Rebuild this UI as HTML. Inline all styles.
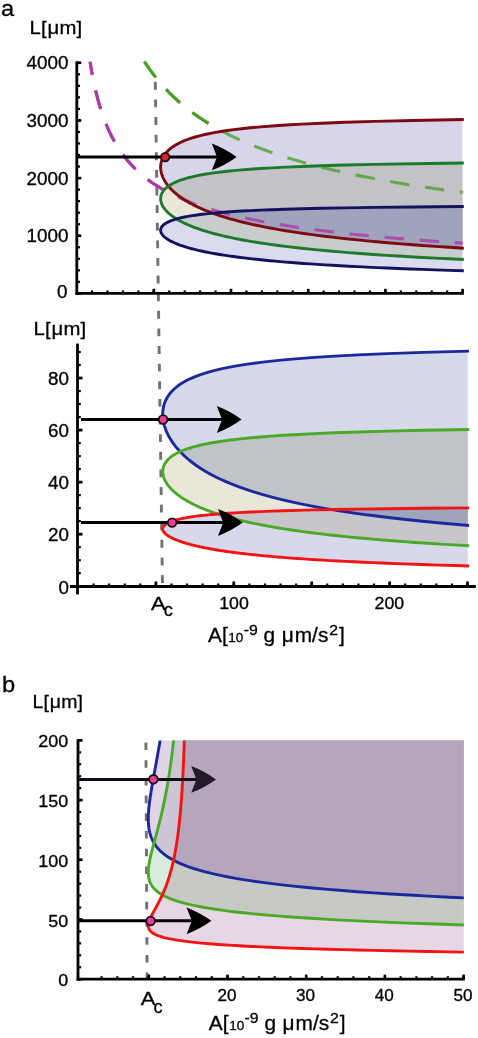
<!DOCTYPE html>
<html><head><meta charset="utf-8"><title>figure</title>
<style>html,body{margin:0;padding:0;background:#fff}svg{display:block}text{font-family:"Liberation Sans", sans-serif;fill:#000;stroke:#000;stroke-width:0.3px}.m{mix-blend-mode:multiply}</style>
</head><body>
<svg width="478" height="1038" viewBox="0 0 478 1038">
<rect width="478" height="1038" fill="#fff"/>
<g fill="none" stroke-width="3.1" stroke-dasharray="19.4 15.8">
<path stroke-dashoffset="6" d="M90.03 61.65 L90.21 62.75 L90.57 64.94 L91.05 67.82 L91.65 71.21 L92.34 74.97 L93.13 78.99 L93.99 83.18 L94.93 87.48 L95.95 91.83 L97.04 96.19 L98.19 100.53 L99.41 104.81 L100.69 109.02 L102.03 113.13 L103.43 117.15 L104.89 121.06 L106.4 124.85 L107.97 128.53 L109.59 132.09 L111.26 135.53 L112.98 138.86 L114.76 142.07 L116.58 145.18 L118.45 148.17 L120.37 151.06 L122.33 153.84 L124.34 156.53 L126.4 159.13 L128.5 161.63 L130.64 164.05 L132.83 166.38 L135.06 168.63 L137.33 170.81 L139.65 172.92 L142 174.95 L144.4 176.92 L146.83 178.82 L149.31 180.66 L151.82 182.45 L154.38 184.17 L156.97 185.84 L159.6 187.47 L162.27 189.04 L164.98 190.56 L167.72 192.04 L170.5 193.48 L173.32 194.87 L176.17 196.23 L179.06 197.54 L181.99 198.82 L184.95 200.06 L187.94 201.27 L190.97 202.45 L194.04 203.6 L197.13 204.71 L200.27 205.8 L203.43 206.86 L206.63 207.89 L209.87 208.9 L213.13 209.88 L216.43 210.84 L219.76 211.77 L223.13 212.68 L226.52 213.57 L229.95 214.44 L233.41 215.29 L236.9 216.12 L240.43 216.93 L243.98 217.72 L247.57 218.5 L251.18 219.26 L254.83 220 L258.51 220.72 L262.21 221.43 L265.95 222.13 L269.72 222.81 L273.52 223.48 L277.35 224.13 L281.2 224.77 L285.09 225.4 L289 226.02 L292.95 226.62 L296.92 227.21 L300.93 227.79 L304.96 228.36 L309.02 228.92 L313.1 229.47 L317.22 230 L321.37 230.53 L325.54 231.05 L329.74 231.56 L333.97 232.06 L338.22 232.55 L342.51 233.04 L346.82 233.51 L351.16 233.98 L355.52 234.44 L359.92 234.89 L364.34 235.33 L368.78 235.77 L373.26 236.2 L377.76 236.62 L382.28 237.03 L386.84 237.44 L391.41 237.84 L396.02 238.24 L400.65 238.63 L405.31 239.01 L409.99 239.39 L414.7 239.76 L419.44 240.13 L424.2 240.49 L428.99 240.85 L433.8 241.2 L438.63 241.54 L443.5 241.88 L448.39 242.22 L453.3 242.55 L458.24 242.87 L463.2 243.19" stroke="#ad38ab"/>
<path d="M144.45 61.65 L144.6 61.88 L144.9 62.35 L145.32 62.99 L145.83 63.76 L146.42 64.65 L147.09 65.64 L147.83 66.72 L148.63 67.88 L149.5 69.11 L150.43 70.41 L151.42 71.76 L152.46 73.16 L153.55 74.6 L154.7 76.08 L155.89 77.6 L157.14 79.14 L158.43 80.71 L159.77 82.3 L161.15 83.9 L162.58 85.52 L164.05 87.15 L165.57 88.79 L167.12 90.43 L168.72 92.08 L170.36 93.73 L172.04 95.37 L173.75 97.01 L175.51 98.65 L177.3 100.28 L179.14 101.91 L181 103.52 L182.91 105.13 L184.85 106.72 L186.83 108.31 L188.84 109.88 L190.88 111.44 L192.97 112.98 L195.08 114.51 L197.23 116.02 L199.41 117.52 L201.63 119.01 L203.87 120.47 L206.15 121.93 L208.47 123.36 L210.81 124.78 L213.18 126.18 L215.59 127.57 L218.03 128.94 L220.5 130.29 L222.99 131.63 L225.52 132.94 L228.08 134.25 L230.67 135.53 L233.29 136.8 L235.93 138.05 L238.61 139.29 L241.31 140.51 L244.05 141.71 L246.81 142.9 L249.6 144.07 L252.42 145.23 L255.26 146.37 L258.14 147.5 L261.04 148.61 L263.96 149.7 L266.92 150.79 L269.9 151.85 L272.91 152.91 L275.95 153.94 L279.01 154.97 L282.1 155.98 L285.21 156.98 L288.36 157.96 L291.52 158.93 L294.71 159.89 L297.93 160.83 L301.18 161.77 L304.45 162.69 L307.74 163.6 L311.06 164.49 L314.41 165.38 L317.78 166.25 L321.17 167.11 L324.59 167.96 L328.03 168.8 L331.5 169.63 L334.99 170.45 L338.51 171.25 L342.05 172.05 L345.61 172.84 L349.2 173.61 L352.81 174.38 L356.45 175.14 L360.11 175.88 L363.79 176.62 L367.5 177.35 L371.22 178.07 L374.98 178.78 L378.75 179.49 L382.55 180.18 L386.37 180.86 L390.22 181.54 L394.08 182.21 L397.97 182.87 L401.88 183.52 L405.82 184.17 L409.77 184.81 L413.75 185.44 L417.75 186.06 L421.77 186.67 L425.82 187.28 L429.89 187.88 L433.97 188.48 L438.09 189.06 L442.22 189.64 L446.37 190.22 L450.55 190.79 L454.74 191.35 L458.96 191.9 L463.2 192.45" stroke="#4aa028"/>
</g>
<line x1="155.3" y1="81.8" x2="162.5" y2="586.5" stroke="#727272" stroke-width="2.9" stroke-dasharray="7.9 9.72"/>
<defs>
<path id="p1r" d="M463.8 119.54 L412.96 120.46 L374.78 121.37 L345.08 122.29 L321.33 123.21 L301.91 124.13 L285.76 125.05 L272.12 125.97 L260.45 126.89 L250.37 127.81 L241.58 128.73 L233.86 129.65 L227.02 130.56 L220.93 131.48 L215.48 132.4 L210.58 133.32 L206.16 134.24 L202.15 135.16 L198.5 136.08 L195.18 137 L192.14 137.92 L189.35 138.84 L186.8 139.75 L184.44 140.67 L182.28 141.59 L180.28 142.51 L178.44 143.43 L176.74 144.35 L175.16 145.27 L173.71 146.19 L172.37 147.11 L171.13 148.03 L169.98 148.95 L168.93 149.86 L167.95 150.78 L167.06 151.7 L166.23 152.62 L165.48 153.54 L164.79 154.46 L164.17 155.38 L163.6 156.3 L163.09 157.22 L162.64 158.14 L162.23 159.05 L161.88 159.97 L161.57 160.89 L161.31 161.81 L161.09 162.73 L160.92 163.65 L160.79 164.57 L160.7 165.49 L160.65 166.41 L160.64 167.33 L160.67 168.24 L160.73 169.16 L160.83 170.08 L160.97 171 L161.15 171.92 L161.36 172.84 L161.6 173.76 L161.89 174.68 L162.2 175.6 L162.56 176.52 L162.94 177.43 L163.37 178.35 L163.83 179.27 L164.32 180.19 L164.85 181.11 L165.42 182.03 L166.02 182.95 L166.66 183.87 L167.34 184.79 L168.06 185.71 L168.81 186.63 L169.61 187.54 L170.44 188.46 L171.32 189.38 L172.23 190.3 L173.2 191.22 L174.2 192.14 L175.25 193.06 L176.34 193.98 L177.48 194.9 L178.67 195.82 L179.91 196.73 L181.21 197.65 L182.55 198.57 L183.95 199.49 L185.4 200.41 L186.91 201.33 L188.49 202.25 L190.12 203.17 L191.82 204.09 L193.58 205.01 L195.42 205.92 L197.32 206.84 L199.3 207.76 L201.36 208.68 L203.5 209.6 L205.72 210.52 L208.02 211.44 L210.42 212.36 L212.91 213.28 L215.5 214.2 L218.2 215.12 L221 216.03 L223.91 216.95 L226.95 217.87 L230.1 218.79 L233.39 219.71 L236.81 220.63 L240.37 221.55 L244.08 222.47 L247.95 223.39 L251.98 224.31 L256.19 225.22 L260.58 226.14 L265.17 227.06 L269.96 227.98 L274.96 228.9 L280.19 229.82 L285.67 230.74 L291.39 231.66 L297.39 232.58 L303.68 233.5 L310.27 234.41 L317.19 235.33 L324.45 236.25 L332.08 237.17 L340.1 238.09 L348.54 239.01 L357.42 239.93 L366.79 240.85 L376.67 241.77 L387.1 242.69 L398.11 243.61 L409.77 244.52 L422.11 245.44 L435.19 246.36 L449.06 247.28 L463.8 248.2"/>
<path id="p1g" d="M463.8 163 L412.96 163.69 L374.78 164.38 L345.08 165.07 L321.33 165.76 L301.91 166.45 L285.76 167.14 L272.12 167.83 L260.45 168.52 L250.37 169.21 L241.58 169.89 L233.86 170.58 L227.02 171.27 L220.93 171.96 L215.48 172.65 L210.58 173.34 L206.16 174.03 L202.15 174.72 L198.5 175.41 L195.18 176.1 L192.14 176.79 L189.35 177.48 L186.8 178.17 L184.44 178.86 L182.28 179.54 L180.28 180.23 L178.44 180.92 L176.74 181.61 L175.16 182.3 L173.71 182.99 L172.37 183.68 L171.13 184.37 L169.98 185.06 L168.93 185.75 L167.95 186.44 L167.06 187.13 L166.23 187.82 L165.48 188.51 L164.79 189.19 L164.17 189.88 L163.6 190.57 L163.09 191.26 L162.64 191.95 L162.23 192.64 L161.88 193.33 L161.57 194.02 L161.31 194.71 L161.09 195.4 L160.92 196.09 L160.79 196.78 L160.7 197.47 L160.65 198.15 L160.64 198.84 L160.67 199.53 L160.73 200.22 L160.83 200.91 L160.97 201.6 L161.15 202.29 L161.36 202.98 L161.6 203.67 L161.89 204.36 L162.2 205.05 L162.56 205.74 L162.94 206.43 L163.37 207.12 L163.83 207.8 L164.32 208.49 L164.85 209.18 L165.42 209.87 L166.02 210.56 L166.66 211.25 L167.34 211.94 L168.06 212.63 L168.81 213.32 L169.61 214.01 L170.44 214.7 L171.32 215.39 L172.23 216.08 L173.2 216.77 L174.2 217.45 L175.25 218.14 L176.34 218.83 L177.48 219.52 L178.67 220.21 L179.91 220.9 L181.21 221.59 L182.55 222.28 L183.95 222.97 L185.4 223.66 L186.91 224.35 L188.49 225.04 L190.12 225.73 L191.82 226.42 L193.58 227.1 L195.42 227.79 L197.32 228.48 L199.3 229.17 L201.36 229.86 L203.5 230.55 L205.72 231.24 L208.02 231.93 L210.42 232.62 L212.91 233.31 L215.5 234 L218.2 234.69 L221 235.38 L223.91 236.06 L226.95 236.75 L230.1 237.44 L233.39 238.13 L236.81 238.82 L240.37 239.51 L244.08 240.2 L247.95 240.89 L251.98 241.58 L256.19 242.27 L260.58 242.96 L265.17 243.65 L269.96 244.34 L274.96 245.03 L280.19 245.71 L285.67 246.4 L291.39 247.09 L297.39 247.78 L303.68 248.47 L310.27 249.16 L317.19 249.85 L324.45 250.54 L332.08 251.23 L340.1 251.92 L348.54 252.61 L357.42 253.3 L366.79 253.99 L376.67 254.68 L387.1 255.36 L398.11 256.05 L409.77 256.74 L422.11 257.43 L435.19 258.12 L449.06 258.81 L463.8 259.5"/>
<path id="p1b" d="M463.8 206.47 L412.96 206.93 L374.78 207.39 L345.08 207.85 L321.33 208.31 L301.91 208.77 L285.76 209.23 L272.12 209.68 L260.45 210.14 L250.37 210.6 L241.58 211.06 L233.86 211.52 L227.02 211.98 L220.93 212.44 L215.48 212.9 L210.58 213.36 L206.16 213.82 L202.15 214.28 L198.5 214.74 L195.18 215.2 L192.14 215.66 L189.35 216.12 L186.8 216.58 L184.44 217.04 L182.28 217.5 L180.28 217.96 L178.44 218.42 L176.74 218.87 L175.16 219.33 L173.71 219.79 L172.37 220.25 L171.13 220.71 L169.98 221.17 L168.93 221.63 L167.95 222.09 L167.06 222.55 L166.23 223.01 L165.48 223.47 L164.79 223.93 L164.17 224.39 L163.6 224.85 L163.09 225.31 L162.64 225.77 L162.23 226.23 L161.88 226.69 L161.57 227.15 L161.31 227.61 L161.09 228.07 L160.92 228.52 L160.79 228.98 L160.7 229.44 L160.65 229.9 L160.64 230.36 L160.67 230.82 L160.73 231.28 L160.83 231.74 L160.97 232.2 L161.15 232.66 L161.36 233.12 L161.6 233.58 L161.89 234.04 L162.2 234.5 L162.56 234.96 L162.94 235.42 L163.37 235.88 L163.83 236.34 L164.32 236.8 L164.85 237.26 L165.42 237.72 L166.02 238.17 L166.66 238.63 L167.34 239.09 L168.06 239.55 L168.81 240.01 L169.61 240.47 L170.44 240.93 L171.32 241.39 L172.23 241.85 L173.2 242.31 L174.2 242.77 L175.25 243.23 L176.34 243.69 L177.48 244.15 L178.67 244.61 L179.91 245.07 L181.21 245.53 L182.55 245.99 L183.95 246.45 L185.4 246.91 L186.91 247.36 L188.49 247.82 L190.12 248.28 L191.82 248.74 L193.58 249.2 L195.42 249.66 L197.32 250.12 L199.3 250.58 L201.36 251.04 L203.5 251.5 L205.72 251.96 L208.02 252.42 L210.42 252.88 L212.91 253.34 L215.5 253.8 L218.2 254.26 L221 254.72 L223.91 255.18 L226.95 255.64 L230.1 256.1 L233.39 256.56 L236.81 257.01 L240.37 257.47 L244.08 257.93 L247.95 258.39 L251.98 258.85 L256.19 259.31 L260.58 259.77 L265.17 260.23 L269.96 260.69 L274.96 261.15 L280.19 261.61 L285.67 262.07 L291.39 262.53 L297.39 262.99 L303.68 263.45 L310.27 263.91 L317.19 264.37 L324.45 264.83 L332.08 265.29 L340.1 265.75 L348.54 266.2 L357.42 266.66 L366.79 267.12 L376.67 267.58 L387.1 268.04 L398.11 268.5 L409.77 268.96 L422.11 269.42 L435.19 269.88 L449.06 270.34 L463.8 270.8"/>
</defs>
<clipPath id="p1R"><rect x="70" y="50" width="392.4" height="250"/></clipPath>
<clipPath id="p1cr"><use href="#p1r"/></clipPath>
<clipPath id="p1cg"><use href="#p1g"/></clipPath>
<clipPath id="p1cb"><use href="#p1b"/></clipPath>
<g clip-path="url(#p1R)">
<use href="#p1r" fill="#d6d5e9"/>
<use href="#p1g" fill="#eae7d8"/>
<use href="#p1b" fill="#dadbee"/>
<g clip-path="url(#p1cr)"><use href="#p1g" fill="#c3c2c6"/></g>
<g clip-path="url(#p1cg)"><use href="#p1b" fill="#c9cccc"/></g>
<g clip-path="url(#p1cr)"><g clip-path="url(#p1cg)"><use href="#p1b" fill="#a0a3bc"/></g></g>
</g>
<g fill="none" stroke-width="3.1" stroke-dasharray="19.4 15.8" opacity="0.78" clip-path="url(#p1R)">
<path stroke-dashoffset="6" d="M90.03 61.65 L90.21 62.75 L90.57 64.94 L91.05 67.82 L91.65 71.21 L92.34 74.97 L93.13 78.99 L93.99 83.18 L94.93 87.48 L95.95 91.83 L97.04 96.19 L98.19 100.53 L99.41 104.81 L100.69 109.02 L102.03 113.13 L103.43 117.15 L104.89 121.06 L106.4 124.85 L107.97 128.53 L109.59 132.09 L111.26 135.53 L112.98 138.86 L114.76 142.07 L116.58 145.18 L118.45 148.17 L120.37 151.06 L122.33 153.84 L124.34 156.53 L126.4 159.13 L128.5 161.63 L130.64 164.05 L132.83 166.38 L135.06 168.63 L137.33 170.81 L139.65 172.92 L142 174.95 L144.4 176.92 L146.83 178.82 L149.31 180.66 L151.82 182.45 L154.38 184.17 L156.97 185.84 L159.6 187.47 L162.27 189.04 L164.98 190.56 L167.72 192.04 L170.5 193.48 L173.32 194.87 L176.17 196.23 L179.06 197.54 L181.99 198.82 L184.95 200.06 L187.94 201.27 L190.97 202.45 L194.04 203.6 L197.13 204.71 L200.27 205.8 L203.43 206.86 L206.63 207.89 L209.87 208.9 L213.13 209.88 L216.43 210.84 L219.76 211.77 L223.13 212.68 L226.52 213.57 L229.95 214.44 L233.41 215.29 L236.9 216.12 L240.43 216.93 L243.98 217.72 L247.57 218.5 L251.18 219.26 L254.83 220 L258.51 220.72 L262.21 221.43 L265.95 222.13 L269.72 222.81 L273.52 223.48 L277.35 224.13 L281.2 224.77 L285.09 225.4 L289 226.02 L292.95 226.62 L296.92 227.21 L300.93 227.79 L304.96 228.36 L309.02 228.92 L313.1 229.47 L317.22 230 L321.37 230.53 L325.54 231.05 L329.74 231.56 L333.97 232.06 L338.22 232.55 L342.51 233.04 L346.82 233.51 L351.16 233.98 L355.52 234.44 L359.92 234.89 L364.34 235.33 L368.78 235.77 L373.26 236.2 L377.76 236.62 L382.28 237.03 L386.84 237.44 L391.41 237.84 L396.02 238.24 L400.65 238.63 L405.31 239.01 L409.99 239.39 L414.7 239.76 L419.44 240.13 L424.2 240.49 L428.99 240.85 L433.8 241.2 L438.63 241.54 L443.5 241.88 L448.39 242.22 L453.3 242.55 L458.24 242.87 L463.2 243.19" stroke="#ad38ab"/>
<path d="M144.45 61.65 L144.6 61.88 L144.9 62.35 L145.32 62.99 L145.83 63.76 L146.42 64.65 L147.09 65.64 L147.83 66.72 L148.63 67.88 L149.5 69.11 L150.43 70.41 L151.42 71.76 L152.46 73.16 L153.55 74.6 L154.7 76.08 L155.89 77.6 L157.14 79.14 L158.43 80.71 L159.77 82.3 L161.15 83.9 L162.58 85.52 L164.05 87.15 L165.57 88.79 L167.12 90.43 L168.72 92.08 L170.36 93.73 L172.04 95.37 L173.75 97.01 L175.51 98.65 L177.3 100.28 L179.14 101.91 L181 103.52 L182.91 105.13 L184.85 106.72 L186.83 108.31 L188.84 109.88 L190.88 111.44 L192.97 112.98 L195.08 114.51 L197.23 116.02 L199.41 117.52 L201.63 119.01 L203.87 120.47 L206.15 121.93 L208.47 123.36 L210.81 124.78 L213.18 126.18 L215.59 127.57 L218.03 128.94 L220.5 130.29 L222.99 131.63 L225.52 132.94 L228.08 134.25 L230.67 135.53 L233.29 136.8 L235.93 138.05 L238.61 139.29 L241.31 140.51 L244.05 141.71 L246.81 142.9 L249.6 144.07 L252.42 145.23 L255.26 146.37 L258.14 147.5 L261.04 148.61 L263.96 149.7 L266.92 150.79 L269.9 151.85 L272.91 152.91 L275.95 153.94 L279.01 154.97 L282.1 155.98 L285.21 156.98 L288.36 157.96 L291.52 158.93 L294.71 159.89 L297.93 160.83 L301.18 161.77 L304.45 162.69 L307.74 163.6 L311.06 164.49 L314.41 165.38 L317.78 166.25 L321.17 167.11 L324.59 167.96 L328.03 168.8 L331.5 169.63 L334.99 170.45 L338.51 171.25 L342.05 172.05 L345.61 172.84 L349.2 173.61 L352.81 174.38 L356.45 175.14 L360.11 175.88 L363.79 176.62 L367.5 177.35 L371.22 178.07 L374.98 178.78 L378.75 179.49 L382.55 180.18 L386.37 180.86 L390.22 181.54 L394.08 182.21 L397.97 182.87 L401.88 183.52 L405.82 184.17 L409.77 184.81 L413.75 185.44 L417.75 186.06 L421.77 186.67 L425.82 187.28 L429.89 187.88 L433.97 188.48 L438.09 189.06 L442.22 189.64 L446.37 190.22 L450.55 190.79 L454.74 191.35 L458.96 191.9 L463.2 192.45" stroke="#4aa028"/>
</g>
<g fill="none" stroke-width="2.9" stroke-linejoin="round">
<use href="#p1r" stroke="#7c0a12"/>
<use href="#p1g" stroke="#1c7a2a"/>
<use href="#p1b" stroke="#12125e"/>
</g>
<defs>
<path id="p2b" d="M469 351.14 L423.19 352.39 L387.27 353.63 L358.38 354.88 L334.67 356.12 L314.88 357.37 L298.13 358.62 L283.78 359.86 L271.38 361.11 L260.56 362.35 L251.05 363.6 L242.63 364.84 L235.15 366.09 L228.45 367.33 L222.44 368.58 L217.02 369.83 L212.12 371.07 L207.67 372.32 L203.61 373.56 L199.92 374.81 L196.54 376.05 L193.44 377.3 L190.61 378.55 L188 379.79 L185.6 381.04 L183.4 382.28 L181.36 383.53 L179.49 384.77 L177.77 386.02 L176.18 387.26 L174.72 388.51 L173.38 389.76 L172.14 391 L171 392.25 L169.96 393.49 L169.01 394.74 L168.14 395.98 L167.35 397.23 L166.64 398.48 L165.99 399.72 L165.42 400.97 L164.9 402.21 L164.45 403.46 L164.05 404.7 L163.71 405.95 L163.42 407.19 L163.19 408.44 L163 409.69 L162.86 410.93 L162.77 412.18 L162.72 413.42 L162.71 414.67 L162.75 415.91 L162.83 417.16 L162.95 418.4 L163.1 419.65 L163.3 420.9 L163.54 422.14 L163.81 423.39 L164.12 424.63 L164.47 425.88 L164.86 427.12 L165.28 428.37 L165.74 429.62 L166.23 430.86 L166.76 432.11 L167.33 433.35 L167.94 434.6 L168.58 435.84 L169.26 437.09 L169.97 438.33 L170.73 439.58 L171.52 440.83 L172.35 442.07 L173.22 443.32 L174.13 444.56 L175.08 445.81 L176.08 447.05 L177.11 448.3 L178.19 449.55 L179.31 450.79 L180.48 452.04 L181.69 453.28 L182.96 454.53 L184.27 455.77 L185.63 457.02 L187.04 458.26 L188.51 459.51 L190.03 460.76 L191.61 462 L193.25 463.25 L194.94 464.49 L196.7 465.74 L198.53 466.98 L200.42 468.23 L202.39 469.48 L204.42 470.72 L206.53 471.97 L208.72 473.21 L210.99 474.46 L213.35 475.7 L215.8 476.95 L218.33 478.19 L220.97 479.44 L223.7 480.69 L226.54 481.93 L229.49 483.18 L232.56 484.42 L235.75 485.67 L239.06 486.91 L242.51 488.16 L246.09 489.4 L249.83 490.65 L253.72 491.9 L257.77 493.14 L261.99 494.39 L266.39 495.63 L270.99 496.88 L275.78 498.12 L280.79 499.37 L286.02 500.62 L291.49 501.86 L297.21 503.11 L303.2 504.35 L309.47 505.6 L316.05 506.84 L322.94 508.09 L330.18 509.33 L337.78 510.58 L345.78 511.83 L354.18 513.07 L363.04 514.32 L372.36 515.56 L382.2 516.81 L392.59 518.05 L403.56 519.3 L415.17 520.55 L427.46 521.79 L440.49 523.04 L454.31 524.28 L469 525.53"/>
<path id="p2g" d="M469 429.49 L423.19 430.32 L387.27 431.16 L358.38 431.99 L334.67 432.82 L314.88 433.65 L298.13 434.48 L283.78 435.31 L271.38 436.14 L260.56 436.97 L251.05 437.8 L242.63 438.63 L235.15 439.46 L228.45 440.29 L222.44 441.12 L217.02 441.95 L212.12 442.78 L207.67 443.61 L203.61 444.44 L199.92 445.27 L196.54 446.1 L193.44 446.93 L190.61 447.76 L188 448.59 L185.6 449.42 L183.4 450.25 L181.36 451.09 L179.49 451.92 L177.77 452.75 L176.18 453.58 L174.72 454.41 L173.38 455.24 L172.14 456.07 L171 456.9 L169.96 457.73 L169.01 458.56 L168.14 459.39 L167.35 460.22 L166.64 461.05 L165.99 461.88 L165.42 462.71 L164.9 463.54 L164.45 464.37 L164.05 465.2 L163.71 466.03 L163.42 466.86 L163.19 467.69 L163 468.52 L162.86 469.35 L162.77 470.18 L162.72 471.01 L162.71 471.85 L162.75 472.68 L162.83 473.51 L162.95 474.34 L163.1 475.17 L163.3 476 L163.54 476.83 L163.81 477.66 L164.12 478.49 L164.47 479.32 L164.86 480.15 L165.28 480.98 L165.74 481.81 L166.23 482.64 L166.76 483.47 L167.33 484.3 L167.94 485.13 L168.58 485.96 L169.26 486.79 L169.97 487.62 L170.73 488.45 L171.52 489.28 L172.35 490.11 L173.22 490.94 L174.13 491.78 L175.08 492.61 L176.08 493.44 L177.11 494.27 L178.19 495.1 L179.31 495.93 L180.48 496.76 L181.69 497.59 L182.96 498.42 L184.27 499.25 L185.63 500.08 L187.04 500.91 L188.51 501.74 L190.03 502.57 L191.61 503.4 L193.25 504.23 L194.94 505.06 L196.7 505.89 L198.53 506.72 L200.42 507.55 L202.39 508.38 L204.42 509.21 L206.53 510.04 L208.72 510.87 L210.99 511.7 L213.35 512.54 L215.8 513.37 L218.33 514.2 L220.97 515.03 L223.7 515.86 L226.54 516.69 L229.49 517.52 L232.56 518.35 L235.75 519.18 L239.06 520.01 L242.51 520.84 L246.09 521.67 L249.83 522.5 L253.72 523.33 L257.77 524.16 L261.99 524.99 L266.39 525.82 L270.99 526.65 L275.78 527.48 L280.79 528.31 L286.02 529.14 L291.49 529.97 L297.21 530.8 L303.2 531.63 L309.47 532.47 L316.05 533.3 L322.94 534.13 L330.18 534.96 L337.78 535.79 L345.78 536.62 L354.18 537.45 L363.04 538.28 L372.36 539.11 L382.2 539.94 L392.59 540.77 L403.56 541.6 L415.17 542.43 L427.46 543.26 L440.49 544.09 L454.31 544.92 L469 545.75"/>
<path id="p2r" d="M469 507.85 L423.19 508.26 L387.27 508.68 L358.38 509.09 L334.67 509.51 L314.88 509.92 L298.13 510.34 L283.78 510.75 L271.38 511.17 L260.56 511.58 L251.05 512 L242.63 512.41 L235.15 512.83 L228.45 513.24 L222.44 513.66 L217.02 514.08 L212.12 514.49 L207.67 514.91 L203.61 515.32 L199.92 515.74 L196.54 516.15 L193.44 516.57 L190.61 516.98 L188 517.4 L185.6 517.81 L183.4 518.23 L181.36 518.64 L179.49 519.06 L177.77 519.47 L176.18 519.89 L174.72 520.3 L173.38 520.72 L172.14 521.13 L171 521.55 L169.96 521.96 L169.01 522.38 L168.14 522.79 L167.35 523.21 L166.64 523.63 L165.99 524.04 L165.42 524.46 L164.9 524.87 L164.45 525.29 L164.05 525.7 L163.71 526.12 L163.42 526.53 L163.19 526.95 L163 527.36 L162.86 527.78 L162.77 528.19 L162.72 528.61 L162.71 529.02 L162.75 529.44 L162.83 529.85 L162.95 530.27 L163.1 530.68 L163.3 531.1 L163.54 531.51 L163.81 531.93 L164.12 532.34 L164.47 532.76 L164.86 533.17 L165.28 533.59 L165.74 534.01 L166.23 534.42 L166.76 534.84 L167.33 535.25 L167.94 535.67 L168.58 536.08 L169.26 536.5 L169.97 536.91 L170.73 537.33 L171.52 537.74 L172.35 538.16 L173.22 538.57 L174.13 538.99 L175.08 539.4 L176.08 539.82 L177.11 540.23 L178.19 540.65 L179.31 541.06 L180.48 541.48 L181.69 541.89 L182.96 542.31 L184.27 542.72 L185.63 543.14 L187.04 543.55 L188.51 543.97 L190.03 544.39 L191.61 544.8 L193.25 545.22 L194.94 545.63 L196.7 546.05 L198.53 546.46 L200.42 546.88 L202.39 547.29 L204.42 547.71 L206.53 548.12 L208.72 548.54 L210.99 548.95 L213.35 549.37 L215.8 549.78 L218.33 550.2 L220.97 550.61 L223.7 551.03 L226.54 551.44 L229.49 551.86 L232.56 552.27 L235.75 552.69 L239.06 553.1 L242.51 553.52 L246.09 553.93 L249.83 554.35 L253.72 554.77 L257.77 555.18 L261.99 555.6 L266.39 556.01 L270.99 556.43 L275.78 556.84 L280.79 557.26 L286.02 557.67 L291.49 558.09 L297.21 558.5 L303.2 558.92 L309.47 559.33 L316.05 559.75 L322.94 560.16 L330.18 560.58 L337.78 560.99 L345.78 561.41 L354.18 561.82 L363.04 562.24 L372.36 562.65 L382.2 563.07 L392.59 563.48 L403.56 563.9 L415.17 564.32 L427.46 564.73 L440.49 565.15 L454.31 565.56 L469 565.98"/>
</defs>
<clipPath id="p2R"><rect x="70" y="340" width="397.7" height="250"/></clipPath>
<clipPath id="p2cb"><use href="#p2b"/></clipPath>
<clipPath id="p2cg"><use href="#p2g"/></clipPath>
<clipPath id="p2cr"><use href="#p2r"/></clipPath>
<g clip-path="url(#p2R)">
<use href="#p2b" fill="#d6d9ea"/>
<use href="#p2g" fill="#eae7d8"/>
<use href="#p2r" fill="#d7d8eb"/>
<g clip-path="url(#p2cb)"><use href="#p2g" fill="#c0c3c7"/></g>
<g clip-path="url(#p2cg)"><use href="#p2r" fill="#c8c5cb"/></g>
<g clip-path="url(#p2cb)"><g clip-path="url(#p2cg)"><use href="#p2r" fill="#a0a4bd"/></g></g>
</g>
<g fill="none" stroke-width="2.9" stroke-linejoin="round">
<use href="#p2b" stroke="#1a2a9c"/>
<use href="#p2g" stroke="#4aaa28"/>
<use href="#p2r" stroke="#f01414"/>
</g>
<g>
<line x1="76.8" y1="61.4" x2="76.8" y2="294.8" stroke="#000" stroke-width="2.8"/>
<line x1="75.4" y1="293.4" x2="463.8" y2="293.4" stroke="#000" stroke-width="2.8"/>
<line x1="76.8" y1="293.4" x2="80" y2="293.4" stroke="#000" stroke-width="2.2"/><line x1="76.8" y1="281.87" x2="80" y2="281.87" stroke="#000" stroke-width="2.2"/><line x1="76.8" y1="270.34" x2="80" y2="270.34" stroke="#000" stroke-width="2.2"/><line x1="76.8" y1="258.81" x2="80" y2="258.81" stroke="#000" stroke-width="2.2"/><line x1="76.8" y1="247.28" x2="80" y2="247.28" stroke="#000" stroke-width="2.2"/><line x1="76.8" y1="235.75" x2="80" y2="235.75" stroke="#000" stroke-width="2.2"/><line x1="76.8" y1="224.22" x2="80" y2="224.22" stroke="#000" stroke-width="2.2"/><line x1="76.8" y1="212.69" x2="80" y2="212.69" stroke="#000" stroke-width="2.2"/><line x1="76.8" y1="201.16" x2="80" y2="201.16" stroke="#000" stroke-width="2.2"/><line x1="76.8" y1="189.63" x2="80" y2="189.63" stroke="#000" stroke-width="2.2"/><line x1="76.8" y1="178.1" x2="80" y2="178.1" stroke="#000" stroke-width="2.2"/><line x1="76.8" y1="166.57" x2="80" y2="166.57" stroke="#000" stroke-width="2.2"/><line x1="76.8" y1="155.04" x2="80" y2="155.04" stroke="#000" stroke-width="2.2"/><line x1="76.8" y1="143.51" x2="80" y2="143.51" stroke="#000" stroke-width="2.2"/><line x1="76.8" y1="131.98" x2="80" y2="131.98" stroke="#000" stroke-width="2.2"/><line x1="76.8" y1="120.45" x2="80" y2="120.45" stroke="#000" stroke-width="2.2"/><line x1="76.8" y1="108.92" x2="80" y2="108.92" stroke="#000" stroke-width="2.2"/><line x1="76.8" y1="97.39" x2="80" y2="97.39" stroke="#000" stroke-width="2.2"/><line x1="76.8" y1="85.86" x2="80" y2="85.86" stroke="#000" stroke-width="2.2"/><line x1="76.8" y1="74.33" x2="80" y2="74.33" stroke="#000" stroke-width="2.2"/><line x1="76.8" y1="62.8" x2="80" y2="62.8" stroke="#000" stroke-width="2.2"/>
<line x1="76.8" y1="293.4" x2="81.3" y2="293.4" stroke="#000" stroke-width="2.6"/><line x1="76.8" y1="235.75" x2="81.3" y2="235.75" stroke="#000" stroke-width="2.6"/><line x1="76.8" y1="178.1" x2="81.3" y2="178.1" stroke="#000" stroke-width="2.6"/><line x1="76.8" y1="120.45" x2="81.3" y2="120.45" stroke="#000" stroke-width="2.6"/><line x1="76.8" y1="62.8" x2="81.3" y2="62.8" stroke="#000" stroke-width="2.6"/>
<line x1="92.04" y1="293.4" x2="92.04" y2="290.4" stroke="#000" stroke-width="2.2"/><line x1="107.48" y1="293.4" x2="107.48" y2="290.4" stroke="#000" stroke-width="2.2"/><line x1="122.92" y1="293.4" x2="122.92" y2="290.4" stroke="#000" stroke-width="2.2"/><line x1="138.36" y1="293.4" x2="138.36" y2="290.4" stroke="#000" stroke-width="2.2"/><line x1="153.8" y1="293.4" x2="153.8" y2="290.4" stroke="#000" stroke-width="2.2"/><line x1="169.24" y1="293.4" x2="169.24" y2="290.4" stroke="#000" stroke-width="2.2"/><line x1="184.68" y1="293.4" x2="184.68" y2="290.4" stroke="#000" stroke-width="2.2"/><line x1="200.12" y1="293.4" x2="200.12" y2="290.4" stroke="#000" stroke-width="2.2"/><line x1="215.56" y1="293.4" x2="215.56" y2="290.4" stroke="#000" stroke-width="2.2"/><line x1="231" y1="293.4" x2="231" y2="290.4" stroke="#000" stroke-width="2.2"/><line x1="246.44" y1="293.4" x2="246.44" y2="290.4" stroke="#000" stroke-width="2.2"/><line x1="261.88" y1="293.4" x2="261.88" y2="290.4" stroke="#000" stroke-width="2.2"/><line x1="277.32" y1="293.4" x2="277.32" y2="290.4" stroke="#000" stroke-width="2.2"/><line x1="292.76" y1="293.4" x2="292.76" y2="290.4" stroke="#000" stroke-width="2.2"/><line x1="308.2" y1="293.4" x2="308.2" y2="290.4" stroke="#000" stroke-width="2.2"/><line x1="323.64" y1="293.4" x2="323.64" y2="290.4" stroke="#000" stroke-width="2.2"/><line x1="339.08" y1="293.4" x2="339.08" y2="290.4" stroke="#000" stroke-width="2.2"/><line x1="354.52" y1="293.4" x2="354.52" y2="290.4" stroke="#000" stroke-width="2.2"/><line x1="369.96" y1="293.4" x2="369.96" y2="290.4" stroke="#000" stroke-width="2.2"/><line x1="385.4" y1="293.4" x2="385.4" y2="290.4" stroke="#000" stroke-width="2.2"/><line x1="400.84" y1="293.4" x2="400.84" y2="290.4" stroke="#000" stroke-width="2.2"/><line x1="416.28" y1="293.4" x2="416.28" y2="290.4" stroke="#000" stroke-width="2.2"/><line x1="431.72" y1="293.4" x2="431.72" y2="290.4" stroke="#000" stroke-width="2.2"/><line x1="447.16" y1="293.4" x2="447.16" y2="290.4" stroke="#000" stroke-width="2.2"/><line x1="462.6" y1="293.4" x2="462.6" y2="290.4" stroke="#000" stroke-width="2.2"/>
<line x1="153.8" y1="293.4" x2="153.8" y2="288.8" stroke="#000" stroke-width="2.6"/><line x1="231" y1="293.4" x2="231" y2="288.8" stroke="#000" stroke-width="2.6"/><line x1="308.2" y1="293.4" x2="308.2" y2="288.8" stroke="#000" stroke-width="2.6"/><line x1="385.4" y1="293.4" x2="385.4" y2="288.8" stroke="#000" stroke-width="2.6"/><line x1="462.6" y1="293.4" x2="462.6" y2="288.8" stroke="#000" stroke-width="2.6"/>
</g>
<g>
<line x1="77.5" y1="343.6" x2="77.5" y2="594.4" stroke="#000" stroke-width="2.8"/>
<line x1="70" y1="586.5" x2="475.8" y2="586.5" stroke="#000" stroke-width="2.8"/>
<line x1="77.5" y1="573.19" x2="80.8" y2="573.19" stroke="#000" stroke-width="2.2"/><line x1="77.5" y1="560.18" x2="80.8" y2="560.18" stroke="#000" stroke-width="2.2"/><line x1="77.5" y1="547.17" x2="80.8" y2="547.17" stroke="#000" stroke-width="2.2"/><line x1="77.5" y1="534.16" x2="80.8" y2="534.16" stroke="#000" stroke-width="2.2"/><line x1="77.5" y1="521.15" x2="80.8" y2="521.15" stroke="#000" stroke-width="2.2"/><line x1="77.5" y1="508.14" x2="80.8" y2="508.14" stroke="#000" stroke-width="2.2"/><line x1="77.5" y1="495.13" x2="80.8" y2="495.13" stroke="#000" stroke-width="2.2"/><line x1="77.5" y1="482.12" x2="80.8" y2="482.12" stroke="#000" stroke-width="2.2"/><line x1="77.5" y1="469.11" x2="80.8" y2="469.11" stroke="#000" stroke-width="2.2"/><line x1="77.5" y1="456.1" x2="80.8" y2="456.1" stroke="#000" stroke-width="2.2"/><line x1="77.5" y1="443.09" x2="80.8" y2="443.09" stroke="#000" stroke-width="2.2"/><line x1="77.5" y1="430.08" x2="80.8" y2="430.08" stroke="#000" stroke-width="2.2"/><line x1="77.5" y1="417.07" x2="80.8" y2="417.07" stroke="#000" stroke-width="2.2"/><line x1="77.5" y1="404.06" x2="80.8" y2="404.06" stroke="#000" stroke-width="2.2"/><line x1="77.5" y1="391.05" x2="80.8" y2="391.05" stroke="#000" stroke-width="2.2"/><line x1="77.5" y1="378.04" x2="80.8" y2="378.04" stroke="#000" stroke-width="2.2"/><line x1="77.5" y1="365.03" x2="80.8" y2="365.03" stroke="#000" stroke-width="2.2"/><line x1="77.5" y1="352.02" x2="80.8" y2="352.02" stroke="#000" stroke-width="2.2"/>
<line x1="77.5" y1="534.16" x2="82.5" y2="534.16" stroke="#000" stroke-width="2.7"/><line x1="77.5" y1="482.12" x2="82.5" y2="482.12" stroke="#000" stroke-width="2.7"/><line x1="77.5" y1="430.08" x2="82.5" y2="430.08" stroke="#000" stroke-width="2.7"/><line x1="77.5" y1="378.04" x2="82.5" y2="378.04" stroke="#000" stroke-width="2.7"/>
<line x1="93.58" y1="586.5" x2="93.58" y2="583.5" stroke="#000" stroke-width="2.2"/><line x1="109.16" y1="586.5" x2="109.16" y2="583.5" stroke="#000" stroke-width="2.2"/><line x1="124.74" y1="586.5" x2="124.74" y2="583.5" stroke="#000" stroke-width="2.2"/><line x1="140.32" y1="586.5" x2="140.32" y2="583.5" stroke="#000" stroke-width="2.2"/><line x1="155.9" y1="586.5" x2="155.9" y2="583.5" stroke="#000" stroke-width="2.2"/><line x1="171.48" y1="586.5" x2="171.48" y2="583.5" stroke="#000" stroke-width="2.2"/><line x1="187.06" y1="586.5" x2="187.06" y2="583.5" stroke="#000" stroke-width="2.2"/><line x1="202.64" y1="586.5" x2="202.64" y2="583.5" stroke="#000" stroke-width="2.2"/><line x1="218.22" y1="586.5" x2="218.22" y2="583.5" stroke="#000" stroke-width="2.2"/><line x1="233.8" y1="586.5" x2="233.8" y2="583.5" stroke="#000" stroke-width="2.2"/><line x1="249.38" y1="586.5" x2="249.38" y2="583.5" stroke="#000" stroke-width="2.2"/><line x1="264.96" y1="586.5" x2="264.96" y2="583.5" stroke="#000" stroke-width="2.2"/><line x1="280.54" y1="586.5" x2="280.54" y2="583.5" stroke="#000" stroke-width="2.2"/><line x1="296.12" y1="586.5" x2="296.12" y2="583.5" stroke="#000" stroke-width="2.2"/><line x1="311.7" y1="586.5" x2="311.7" y2="583.5" stroke="#000" stroke-width="2.2"/><line x1="327.28" y1="586.5" x2="327.28" y2="583.5" stroke="#000" stroke-width="2.2"/><line x1="342.86" y1="586.5" x2="342.86" y2="583.5" stroke="#000" stroke-width="2.2"/><line x1="358.44" y1="586.5" x2="358.44" y2="583.5" stroke="#000" stroke-width="2.2"/><line x1="374.02" y1="586.5" x2="374.02" y2="583.5" stroke="#000" stroke-width="2.2"/><line x1="389.6" y1="586.5" x2="389.6" y2="583.5" stroke="#000" stroke-width="2.2"/><line x1="405.18" y1="586.5" x2="405.18" y2="583.5" stroke="#000" stroke-width="2.2"/><line x1="420.76" y1="586.5" x2="420.76" y2="583.5" stroke="#000" stroke-width="2.2"/><line x1="436.34" y1="586.5" x2="436.34" y2="583.5" stroke="#000" stroke-width="2.2"/><line x1="451.92" y1="586.5" x2="451.92" y2="583.5" stroke="#000" stroke-width="2.2"/><line x1="467.5" y1="586.5" x2="467.5" y2="583.5" stroke="#000" stroke-width="2.2"/>
<line x1="155.9" y1="586.5" x2="155.9" y2="581.5" stroke="#000" stroke-width="2.7"/><line x1="233.8" y1="586.5" x2="233.8" y2="581.5" stroke="#000" stroke-width="2.7"/><line x1="311.7" y1="586.5" x2="311.7" y2="581.5" stroke="#000" stroke-width="2.7"/><line x1="389.6" y1="586.5" x2="389.6" y2="581.5" stroke="#000" stroke-width="2.7"/><line x1="467.5" y1="586.5" x2="467.5" y2="581.5" stroke="#000" stroke-width="2.7"/>
</g>
<line x1="76.8" y1="156.9" x2="219" y2="156.9" stroke="#000" stroke-width="3.0"/><path d="M236.6 156.9 Q225.1 148.6 211.8 143.5 L217 156.9 L211.8 170.3 Q225.1 165.2 236.6 156.9 Z" fill="#000"/>
<circle cx="165.2" cy="157.1" r="4.3" fill="#e0202c" stroke="#1a1014" stroke-width="1.8"/>
<line x1="81" y1="419.5" x2="224" y2="419.5" stroke="#000" stroke-width="3.0"/><path d="M241.6 419.5 Q230.1 411.2 216.8 406.1 L222 419.5 L216.8 432.9 Q230.1 427.8 241.6 419.5 Z" fill="#000"/>
<circle cx="163.1" cy="419.5" r="4.3" fill="#f03c96" stroke="#1a1014" stroke-width="1.8"/>
<line x1="81" y1="522.5" x2="225.2" y2="522.5" stroke="#000" stroke-width="3.0"/><path d="M242.8 522.5 Q231.3 514.2 218 509.1 L223.2 522.5 L218 535.9 Q231.3 530.8 242.8 522.5 Z" fill="#000"/>
<circle cx="172.1" cy="522.6" r="4.3" fill="#f03c96" stroke="#1a1014" stroke-width="1.8"/>
<clipPath id="c3"><rect x="70" y="740.4" width="393.8" height="260"/></clipPath>
<line x1="145.9" y1="742.5" x2="147.1" y2="978" stroke="#727272" stroke-width="2.9" stroke-dasharray="7.6 10.1"/>
<defs>
<path id="p3b" d="M493.8 898.24 L471.75 898.24 L449.39 897.19 L428.45 896.12 L408.84 895.04 L390.49 893.94 L373.3 892.83 L357.21 891.71 L342.14 890.57 L328.03 889.41 L314.82 888.24 L302.45 887.06 L290.88 885.86 L280.06 884.64 L269.94 883.41 L260.47 882.16 L251.62 880.9 L243.36 879.62 L235.64 878.32 L228.44 877.01 L221.73 875.67 L215.47 874.33 L209.64 872.96 L204.21 871.57 L199.17 870.17 L194.48 868.75 L190.13 867.31 L186.1 865.86 L182.36 864.38 L178.91 862.88 L175.72 861.37 L172.78 859.83 L170.08 858.28 L167.59 856.7 L165.31 855.11 L163.23 853.49 L161.33 851.85 L159.6 850.19 L158.03 848.51 L156.61 846.81 L155.34 845.09 L154.2 843.34 L153.19 841.57 L152.29 839.77 L151.5 837.96 L150.81 836.12 L150.23 834.25 L149.73 832.37 L149.31 830.45 L148.97 828.52 L148.71 826.55 L148.51 824.56 L148.38 822.55 L148.31 820.51 L148.29 818.44 L148.32 816.35 L148.4 814.22 L148.53 812.08 L148.69 809.9 L148.89 807.69 L149.13 805.46 L149.39 803.19 L149.69 800.9 L150.01 798.58 L150.36 796.23 L150.73 793.84 L151.12 791.43 L151.52 788.98 L151.94 786.5 L152.38 783.99 L152.83 781.45 L153.29 778.87 L153.76 776.26 L154.24 773.62 L154.73 770.94 L155.22 768.23 L155.72 765.48 L156.22 762.7 L156.73 759.87 L157.24 757.02 L157.75 754.12 L158.26 751.19 L158.77 748.22 L159.28 745.21 L159.79 742.16 L160.3 739.07 L160.81 735.95 L161.31 732.78 L161.81 729.57 L162.31 726.31 L162.8 723.02 L162.8 710.4 L493.8 710.4 Z"/>
<path id="p3bs" d="M471.75 898.24 L449.39 897.19 L428.45 896.12 L408.84 895.04 L390.49 893.94 L373.3 892.83 L357.21 891.71 L342.14 890.57 L328.03 889.41 L314.82 888.24 L302.45 887.06 L290.88 885.86 L280.06 884.64 L269.94 883.41 L260.47 882.16 L251.62 880.9 L243.36 879.62 L235.64 878.32 L228.44 877.01 L221.73 875.67 L215.47 874.33 L209.64 872.96 L204.21 871.57 L199.17 870.17 L194.48 868.75 L190.13 867.31 L186.1 865.86 L182.36 864.38 L178.91 862.88 L175.72 861.37 L172.78 859.83 L170.08 858.28 L167.59 856.7 L165.31 855.11 L163.23 853.49 L161.33 851.85 L159.6 850.19 L158.03 848.51 L156.61 846.81 L155.34 845.09 L154.2 843.34 L153.19 841.57 L152.29 839.77 L151.5 837.96 L150.81 836.12 L150.23 834.25 L149.73 832.37 L149.31 830.45 L148.97 828.52 L148.71 826.55 L148.51 824.56 L148.38 822.55 L148.31 820.51 L148.29 818.44 L148.32 816.35 L148.4 814.22 L148.53 812.08 L148.69 809.9 L148.89 807.69 L149.13 805.46 L149.39 803.19 L149.69 800.9 L150.01 798.58 L150.36 796.23 L150.73 793.84 L151.12 791.43 L151.52 788.98 L151.94 786.5 L152.38 783.99 L152.83 781.45 L153.29 778.87 L153.76 776.26 L154.24 773.62 L154.73 770.94 L155.22 768.23 L155.72 765.48 L156.22 762.7 L156.73 759.87 L157.24 757.02 L157.75 754.12 L158.26 751.19 L158.77 748.22 L159.28 745.21 L159.79 742.16 L160.3 739.07 L160.81 735.95 L161.31 732.78 L161.81 729.57 L162.31 726.31 L162.8 723.02"/>
<path id="p3g" d="M493.8 925.23 L471.75 925.23 L449.39 924.53 L428.45 923.81 L408.84 923.09 L390.49 922.36 L373.3 921.62 L357.21 920.87 L342.14 920.11 L328.03 919.34 L314.82 918.56 L302.45 917.77 L290.88 916.97 L280.06 916.16 L269.94 915.34 L260.47 914.51 L251.62 913.67 L243.36 912.81 L235.64 911.95 L228.44 911.07 L221.73 910.18 L215.47 909.28 L209.64 908.37 L204.21 907.45 L199.17 906.52 L194.48 905.57 L190.13 904.61 L186.1 903.64 L182.36 902.65 L178.91 901.66 L175.72 900.65 L172.78 899.62 L170.08 898.59 L167.59 897.53 L165.31 896.47 L163.23 895.39 L161.33 894.3 L159.6 893.2 L158.03 892.07 L156.61 890.94 L155.34 889.79 L154.2 888.63 L153.19 887.45 L152.29 886.25 L151.5 885.04 L150.81 883.81 L150.23 882.57 L149.73 881.31 L149.31 880.04 L148.97 878.74 L148.71 877.43 L148.51 876.11 L148.38 874.77 L148.31 873.41 L148.29 872.03 L148.32 870.63 L148.4 869.22 L148.53 867.78 L148.69 866.33 L148.89 864.86 L149.13 863.37 L149.39 861.86 L149.69 860.33 L150.01 858.79 L150.36 857.22 L150.73 855.63 L151.12 854.02 L151.52 852.39 L151.94 850.74 L152.38 849.06 L152.83 847.37 L153.29 845.65 L153.76 843.91 L154.24 842.15 L154.73 840.36 L155.22 838.55 L155.72 836.72 L156.22 834.86 L156.73 832.98 L157.24 831.08 L157.75 829.15 L158.26 827.19 L158.77 825.21 L159.28 823.21 L159.79 821.18 L160.3 819.12 L160.81 817.03 L161.31 814.92 L161.81 812.78 L162.31 810.61 L162.8 808.41 L163.29 806.19 L163.78 803.93 L164.26 801.65 L164.73 799.34 L165.2 796.99 L165.67 794.62 L166.13 792.22 L166.58 789.78 L167.03 787.31 L167.47 784.81 L167.9 782.28 L168.33 779.72 L168.75 777.12 L169.17 774.48 L169.58 771.82 L169.98 769.11 L170.38 766.38 L170.77 763.61 L171.15 760.8 L171.53 757.95 L171.9 755.07 L172.26 752.15 L172.62 749.19 L172.97 746.19 L173.31 743.16 L173.65 740.08 L173.98 736.97 L174.31 733.81 L174.63 730.62 L174.94 727.38 L175.25 724.1 L175.25 710.4 L493.8 710.4 Z"/>
<path id="p3gs" d="M471.75 925.23 L449.39 924.53 L428.45 923.81 L408.84 923.09 L390.49 922.36 L373.3 921.62 L357.21 920.87 L342.14 920.11 L328.03 919.34 L314.82 918.56 L302.45 917.77 L290.88 916.97 L280.06 916.16 L269.94 915.34 L260.47 914.51 L251.62 913.67 L243.36 912.81 L235.64 911.95 L228.44 911.07 L221.73 910.18 L215.47 909.28 L209.64 908.37 L204.21 907.45 L199.17 906.52 L194.48 905.57 L190.13 904.61 L186.1 903.64 L182.36 902.65 L178.91 901.66 L175.72 900.65 L172.78 899.62 L170.08 898.59 L167.59 897.53 L165.31 896.47 L163.23 895.39 L161.33 894.3 L159.6 893.2 L158.03 892.07 L156.61 890.94 L155.34 889.79 L154.2 888.63 L153.19 887.45 L152.29 886.25 L151.5 885.04 L150.81 883.81 L150.23 882.57 L149.73 881.31 L149.31 880.04 L148.97 878.74 L148.71 877.43 L148.51 876.11 L148.38 874.77 L148.31 873.41 L148.29 872.03 L148.32 870.63 L148.4 869.22 L148.53 867.78 L148.69 866.33 L148.89 864.86 L149.13 863.37 L149.39 861.86 L149.69 860.33 L150.01 858.79 L150.36 857.22 L150.73 855.63 L151.12 854.02 L151.52 852.39 L151.94 850.74 L152.38 849.06 L152.83 847.37 L153.29 845.65 L153.76 843.91 L154.24 842.15 L154.73 840.36 L155.22 838.55 L155.72 836.72 L156.22 834.86 L156.73 832.98 L157.24 831.08 L157.75 829.15 L158.26 827.19 L158.77 825.21 L159.28 823.21 L159.79 821.18 L160.3 819.12 L160.81 817.03 L161.31 814.92 L161.81 812.78 L162.31 810.61 L162.8 808.41 L163.29 806.19 L163.78 803.93 L164.26 801.65 L164.73 799.34 L165.2 796.99 L165.67 794.62 L166.13 792.22 L166.58 789.78 L167.03 787.31 L167.47 784.81 L167.9 782.28 L168.33 779.72 L168.75 777.12 L169.17 774.48 L169.58 771.82 L169.98 769.11 L170.38 766.38 L170.77 763.61 L171.15 760.8 L171.53 757.95 L171.9 755.07 L172.26 752.15 L172.62 749.19 L172.97 746.19 L173.31 743.16 L173.65 740.08 L173.98 736.97 L174.31 733.81 L174.63 730.62 L174.94 727.38 L175.25 724.1"/>
<path id="p3r" d="M493.8 952.21 L471.75 952.21 L449.39 951.86 L428.45 951.51 L408.84 951.15 L390.49 950.78 L373.3 950.41 L357.21 950.04 L342.14 949.66 L328.03 949.27 L314.82 948.88 L302.45 948.49 L290.88 948.09 L280.06 947.68 L269.94 947.27 L260.47 946.85 L251.62 946.43 L243.36 946.01 L235.64 945.57 L228.44 945.14 L221.73 944.69 L215.47 944.24 L209.64 943.79 L204.21 943.32 L199.17 942.86 L194.48 942.38 L190.13 941.9 L186.1 941.42 L182.36 940.93 L178.91 940.43 L175.72 939.92 L172.78 939.41 L170.08 938.89 L167.59 938.37 L165.31 937.84 L163.23 937.3 L161.33 936.75 L159.6 936.2 L158.03 935.64 L156.61 935.07 L155.34 934.5 L154.2 933.91 L153.19 933.32 L152.29 932.72 L151.5 932.12 L150.81 931.51 L150.23 930.88 L149.73 930.26 L149.31 929.62 L148.97 928.97 L148.71 928.32 L148.51 927.65 L148.38 926.98 L148.31 926.3 L148.29 925.61 L148.32 924.92 L148.4 924.21 L148.53 923.49 L148.69 922.77 L148.89 922.03 L149.13 921.29 L149.39 920.53 L149.69 919.77 L150.01 918.99 L150.36 918.21 L150.73 917.41 L151.12 916.61 L151.52 915.79 L151.94 914.97 L152.38 914.13 L152.83 913.28 L153.29 912.42 L153.76 911.55 L154.24 910.67 L154.73 909.78 L155.22 908.88 L155.72 907.96 L156.22 907.03 L156.73 906.09 L157.24 905.14 L157.75 904.17 L158.26 903.2 L158.77 902.21 L159.28 901.2 L159.79 900.19 L160.3 899.16 L160.81 898.12 L161.31 897.06 L161.81 895.99 L162.31 894.9 L162.8 893.81 L163.29 892.69 L163.78 891.57 L164.26 890.43 L164.73 889.27 L165.2 888.1 L165.67 886.91 L166.13 885.71 L166.58 884.49 L167.03 883.26 L167.47 882.01 L167.9 880.74 L168.33 879.46 L168.75 878.16 L169.17 876.84 L169.58 875.51 L169.98 874.16 L170.38 872.79 L170.77 871.4 L171.15 870 L171.53 868.58 L171.9 867.13 L172.26 865.67 L172.62 864.2 L172.97 862.7 L173.31 861.18 L173.65 859.64 L173.98 858.08 L174.31 856.51 L174.63 854.91 L174.94 853.29 L175.25 851.65 L175.55 849.99 L175.84 848.3 L176.13 846.6 L176.41 844.87 L176.69 843.12 L176.96 841.35 L177.23 839.55 L177.49 837.73 L177.74 835.89 L177.99 834.02 L178.24 832.13 L178.47 830.22 L178.71 828.27 L178.94 826.31 L179.16 824.32 L179.38 822.3 L179.59 820.25 L179.8 818.18 L180.01 816.09 L180.21 813.96 L180.4 811.81 L180.59 809.63 L180.78 807.42 L180.96 805.18 L181.14 802.91 L181.31 800.62 L181.48 798.29 L181.65 795.93 L181.81 793.55 L181.97 791.13 L182.13 788.68 L182.28 786.19 L182.43 783.68 L182.57 781.13 L182.71 778.55 L182.85 775.94 L182.98 773.29 L183.12 770.61 L183.24 767.89 L183.37 765.14 L183.49 762.35 L183.61 759.52 L183.73 756.66 L183.84 753.76 L183.95 750.83 L184.06 747.85 L184.17 744.84 L184.27 741.78 L184.37 738.69 L184.47 735.56 L184.56 732.38 L184.66 729.17 L184.75 725.91 L184.84 722.61 L184.84 710.4 L493.8 710.4 Z"/>
<path id="p3rs" d="M471.75 952.21 L449.39 951.86 L428.45 951.51 L408.84 951.15 L390.49 950.78 L373.3 950.41 L357.21 950.04 L342.14 949.66 L328.03 949.27 L314.82 948.88 L302.45 948.49 L290.88 948.09 L280.06 947.68 L269.94 947.27 L260.47 946.85 L251.62 946.43 L243.36 946.01 L235.64 945.57 L228.44 945.14 L221.73 944.69 L215.47 944.24 L209.64 943.79 L204.21 943.32 L199.17 942.86 L194.48 942.38 L190.13 941.9 L186.1 941.42 L182.36 940.93 L178.91 940.43 L175.72 939.92 L172.78 939.41 L170.08 938.89 L167.59 938.37 L165.31 937.84 L163.23 937.3 L161.33 936.75 L159.6 936.2 L158.03 935.64 L156.61 935.07 L155.34 934.5 L154.2 933.91 L153.19 933.32 L152.29 932.72 L151.5 932.12 L150.81 931.51 L150.23 930.88 L149.73 930.26 L149.31 929.62 L148.97 928.97 L148.71 928.32 L148.51 927.65 L148.38 926.98 L148.31 926.3 L148.29 925.61 L148.32 924.92 L148.4 924.21 L148.53 923.49 L148.69 922.77 L148.89 922.03 L149.13 921.29 L149.39 920.53 L149.69 919.77 L150.01 918.99 L150.36 918.21 L150.73 917.41 L151.12 916.61 L151.52 915.79 L151.94 914.97 L152.38 914.13 L152.83 913.28 L153.29 912.42 L153.76 911.55 L154.24 910.67 L154.73 909.78 L155.22 908.88 L155.72 907.96 L156.22 907.03 L156.73 906.09 L157.24 905.14 L157.75 904.17 L158.26 903.2 L158.77 902.21 L159.28 901.2 L159.79 900.19 L160.3 899.16 L160.81 898.12 L161.31 897.06 L161.81 895.99 L162.31 894.9 L162.8 893.81 L163.29 892.69 L163.78 891.57 L164.26 890.43 L164.73 889.27 L165.2 888.1 L165.67 886.91 L166.13 885.71 L166.58 884.49 L167.03 883.26 L167.47 882.01 L167.9 880.74 L168.33 879.46 L168.75 878.16 L169.17 876.84 L169.58 875.51 L169.98 874.16 L170.38 872.79 L170.77 871.4 L171.15 870 L171.53 868.58 L171.9 867.13 L172.26 865.67 L172.62 864.2 L172.97 862.7 L173.31 861.18 L173.65 859.64 L173.98 858.08 L174.31 856.51 L174.63 854.91 L174.94 853.29 L175.25 851.65 L175.55 849.99 L175.84 848.3 L176.13 846.6 L176.41 844.87 L176.69 843.12 L176.96 841.35 L177.23 839.55 L177.49 837.73 L177.74 835.89 L177.99 834.02 L178.24 832.13 L178.47 830.22 L178.71 828.27 L178.94 826.31 L179.16 824.32 L179.38 822.3 L179.59 820.25 L179.8 818.18 L180.01 816.09 L180.21 813.96 L180.4 811.81 L180.59 809.63 L180.78 807.42 L180.96 805.18 L181.14 802.91 L181.31 800.62 L181.48 798.29 L181.65 795.93 L181.81 793.55 L181.97 791.13 L182.13 788.68 L182.28 786.19 L182.43 783.68 L182.57 781.13 L182.71 778.55 L182.85 775.94 L182.98 773.29 L183.12 770.61 L183.24 767.89 L183.37 765.14 L183.49 762.35 L183.61 759.52 L183.73 756.66 L183.84 753.76 L183.95 750.83 L184.06 747.85 L184.17 744.84 L184.27 741.78 L184.37 738.69 L184.47 735.56 L184.56 732.38 L184.66 729.17 L184.75 725.91 L184.84 722.61"/>
</defs>
<clipPath id="p3R"><rect x="70" y="740.4" width="393.8" height="260"/></clipPath>
<clipPath id="p3cb"><use href="#p3b"/></clipPath>
<clipPath id="p3cg"><use href="#p3g"/></clipPath>
<clipPath id="p3cr"><use href="#p3r"/></clipPath>
<g clip-path="url(#p3R)">
<use href="#p3b" fill="#e1d4e8"/>
<use href="#p3g" fill="#d8ecde"/>
<use href="#p3r" fill="#e7d7e5"/>
<g clip-path="url(#p3cb)"><use href="#p3g" fill="#cbc5d4"/></g>
<g clip-path="url(#p3cg)"><use href="#p3r" fill="#c7c9c5"/></g>
<g clip-path="url(#p3cb)"><use href="#p3r" fill="#c8b4d0"/></g>
<g clip-path="url(#p3cb)"><g clip-path="url(#p3cg)"><use href="#p3r" fill="#b5a6bb"/></g></g>
</g>
<g clip-path="url(#c3)">
<g fill="none" stroke-width="2.9" stroke-linejoin="round">
<use href="#p3bs" stroke="#1a2a9c"/>
<use href="#p3gs" stroke="#4aaa28"/>
<use href="#p3rs" stroke="#f01414"/>
</g>
</g>
<g>
<line x1="78" y1="739.2" x2="78" y2="980.6" stroke="#000" stroke-width="2.8"/>
<line x1="76.6" y1="979.2" x2="464.8" y2="979.2" stroke="#000" stroke-width="2.8"/>
<line x1="78" y1="979.2" x2="81.2" y2="979.2" stroke="#000" stroke-width="2.2"/><line x1="78" y1="967.26" x2="81.2" y2="967.26" stroke="#000" stroke-width="2.2"/><line x1="78" y1="955.32" x2="81.2" y2="955.32" stroke="#000" stroke-width="2.2"/><line x1="78" y1="943.38" x2="81.2" y2="943.38" stroke="#000" stroke-width="2.2"/><line x1="78" y1="931.44" x2="81.2" y2="931.44" stroke="#000" stroke-width="2.2"/><line x1="78" y1="919.5" x2="81.2" y2="919.5" stroke="#000" stroke-width="2.2"/><line x1="78" y1="907.56" x2="81.2" y2="907.56" stroke="#000" stroke-width="2.2"/><line x1="78" y1="895.62" x2="81.2" y2="895.62" stroke="#000" stroke-width="2.2"/><line x1="78" y1="883.68" x2="81.2" y2="883.68" stroke="#000" stroke-width="2.2"/><line x1="78" y1="871.74" x2="81.2" y2="871.74" stroke="#000" stroke-width="2.2"/><line x1="78" y1="859.8" x2="81.2" y2="859.8" stroke="#000" stroke-width="2.2"/><line x1="78" y1="847.86" x2="81.2" y2="847.86" stroke="#000" stroke-width="2.2"/><line x1="78" y1="835.92" x2="81.2" y2="835.92" stroke="#000" stroke-width="2.2"/><line x1="78" y1="823.98" x2="81.2" y2="823.98" stroke="#000" stroke-width="2.2"/><line x1="78" y1="812.04" x2="81.2" y2="812.04" stroke="#000" stroke-width="2.2"/><line x1="78" y1="800.1" x2="81.2" y2="800.1" stroke="#000" stroke-width="2.2"/><line x1="78" y1="788.16" x2="81.2" y2="788.16" stroke="#000" stroke-width="2.2"/><line x1="78" y1="776.22" x2="81.2" y2="776.22" stroke="#000" stroke-width="2.2"/><line x1="78" y1="764.28" x2="81.2" y2="764.28" stroke="#000" stroke-width="2.2"/><line x1="78" y1="752.34" x2="81.2" y2="752.34" stroke="#000" stroke-width="2.2"/><line x1="78" y1="740.4" x2="81.2" y2="740.4" stroke="#000" stroke-width="2.2"/>
<line x1="78" y1="979.2" x2="82.6" y2="979.2" stroke="#000" stroke-width="2.6"/><line x1="78" y1="919.5" x2="82.6" y2="919.5" stroke="#000" stroke-width="2.6"/><line x1="78" y1="859.8" x2="82.6" y2="859.8" stroke="#000" stroke-width="2.6"/><line x1="78" y1="800.1" x2="82.6" y2="800.1" stroke="#000" stroke-width="2.6"/><line x1="78" y1="740.4" x2="82.6" y2="740.4" stroke="#000" stroke-width="2.6"/>
<line x1="101.58" y1="979.2" x2="101.58" y2="976.2" stroke="#000" stroke-width="2.2"/><line x1="117.32" y1="979.2" x2="117.32" y2="976.2" stroke="#000" stroke-width="2.2"/><line x1="133.06" y1="979.2" x2="133.06" y2="976.2" stroke="#000" stroke-width="2.2"/><line x1="148.8" y1="979.2" x2="148.8" y2="976.2" stroke="#000" stroke-width="2.2"/><line x1="164.54" y1="979.2" x2="164.54" y2="976.2" stroke="#000" stroke-width="2.2"/><line x1="180.28" y1="979.2" x2="180.28" y2="976.2" stroke="#000" stroke-width="2.2"/><line x1="196.02" y1="979.2" x2="196.02" y2="976.2" stroke="#000" stroke-width="2.2"/><line x1="211.76" y1="979.2" x2="211.76" y2="976.2" stroke="#000" stroke-width="2.2"/><line x1="227.5" y1="979.2" x2="227.5" y2="976.2" stroke="#000" stroke-width="2.2"/><line x1="243.24" y1="979.2" x2="243.24" y2="976.2" stroke="#000" stroke-width="2.2"/><line x1="258.98" y1="979.2" x2="258.98" y2="976.2" stroke="#000" stroke-width="2.2"/><line x1="274.72" y1="979.2" x2="274.72" y2="976.2" stroke="#000" stroke-width="2.2"/><line x1="290.46" y1="979.2" x2="290.46" y2="976.2" stroke="#000" stroke-width="2.2"/><line x1="306.2" y1="979.2" x2="306.2" y2="976.2" stroke="#000" stroke-width="2.2"/><line x1="321.94" y1="979.2" x2="321.94" y2="976.2" stroke="#000" stroke-width="2.2"/><line x1="337.68" y1="979.2" x2="337.68" y2="976.2" stroke="#000" stroke-width="2.2"/><line x1="353.42" y1="979.2" x2="353.42" y2="976.2" stroke="#000" stroke-width="2.2"/><line x1="369.16" y1="979.2" x2="369.16" y2="976.2" stroke="#000" stroke-width="2.2"/><line x1="384.9" y1="979.2" x2="384.9" y2="976.2" stroke="#000" stroke-width="2.2"/><line x1="400.64" y1="979.2" x2="400.64" y2="976.2" stroke="#000" stroke-width="2.2"/><line x1="416.38" y1="979.2" x2="416.38" y2="976.2" stroke="#000" stroke-width="2.2"/><line x1="432.12" y1="979.2" x2="432.12" y2="976.2" stroke="#000" stroke-width="2.2"/><line x1="447.86" y1="979.2" x2="447.86" y2="976.2" stroke="#000" stroke-width="2.2"/><line x1="463.6" y1="979.2" x2="463.6" y2="976.2" stroke="#000" stroke-width="2.2"/>
<line x1="148.8" y1="979.2" x2="148.8" y2="974.6" stroke="#000" stroke-width="2.6"/><line x1="227.5" y1="979.2" x2="227.5" y2="974.6" stroke="#000" stroke-width="2.6"/><line x1="306.2" y1="979.2" x2="306.2" y2="974.6" stroke="#000" stroke-width="2.6"/><line x1="384.9" y1="979.2" x2="384.9" y2="974.6" stroke="#000" stroke-width="2.6"/><line x1="463.6" y1="979.2" x2="463.6" y2="974.6" stroke="#000" stroke-width="2.6"/>
</g>
<line x1="78" y1="779.4" x2="198.4" y2="779.4" stroke="#120c16" stroke-width="3.0"/><path d="M216 779.4 Q204.5 771.1 191.2 766 L196.4 779.4 L191.2 792.8 Q204.5 787.7 216 779.4 Z" fill="#221a28"/>
<circle cx="153.4" cy="779.3" r="4.3" fill="#f03c96" stroke="#1a1014" stroke-width="1.8"/>
<line x1="78" y1="920.8" x2="193.8" y2="920.8" stroke="#000" stroke-width="3.0"/><path d="M211.4 920.8 Q199.9 912.5 186.6 907.4 L191.8 920.8 L186.6 934.2 Q199.9 929.1 211.4 920.8 Z" fill="#000"/>
<circle cx="150.6" cy="921" r="4.3" fill="#f03c96" stroke="#1a1014" stroke-width="1.8"/>
<text transform="translate(1 15.6) scale(1.1 1)" font-size="21.5" text-anchor="start">a</text>
<text transform="translate(2 692) scale(1.08 1)" font-size="22" text-anchor="start">b</text>
<text transform="translate(29.6 34.4) scale(1.07 1)" font-size="19" text-anchor="start">L[<tspan dx="0.8">μ</tspan><tspan dx="0.4">m]</tspan></text>
<text transform="translate(33.6 334.9) scale(1.07 1)" font-size="19" text-anchor="start">L[<tspan dx="0.8">μ</tspan><tspan dx="0.4">m]</tspan></text>
<text transform="translate(32.6 707.7) scale(1.07 1)" font-size="18.2" text-anchor="start">L[<tspan dx="0.8">μ</tspan><tspan dx="0.4">m]</tspan></text>
<text transform="translate(67.4 297.8) scale(1.07 1)" font-size="17.6" text-anchor="end">0</text>
<text transform="translate(68.4 242.35) scale(1.07 1)" font-size="17.6" text-anchor="end">1000</text>
<text transform="translate(68.4 184.7) scale(1.07 1)" font-size="17.6" text-anchor="end">2000</text>
<text transform="translate(68.4 127.05) scale(1.07 1)" font-size="17.6" text-anchor="end">3000</text>
<text transform="translate(68.4 69.4) scale(1.07 1)" font-size="17.6" text-anchor="end">4000</text>
<text transform="translate(69 594.2) scale(1.07 1)" font-size="17.6" text-anchor="end">0</text>
<text transform="translate(69 541.06) scale(1.07 1)" font-size="17.6" text-anchor="end">20</text>
<text transform="translate(69 489.02) scale(1.07 1)" font-size="17.6" text-anchor="end">40</text>
<text transform="translate(69 436.98) scale(1.07 1)" font-size="17.6" text-anchor="end">60</text>
<text transform="translate(69 384.94) scale(1.07 1)" font-size="17.6" text-anchor="end">80</text>
<text transform="translate(68.3 986.2) scale(1.07 1)" font-size="16.8" text-anchor="end">0</text>
<text transform="translate(68.3 926.5) scale(1.07 1)" font-size="16.8" text-anchor="end">50</text>
<text transform="translate(68.3 866.8) scale(1.07 1)" font-size="16.8" text-anchor="end">100</text>
<text transform="translate(68.3 807.1) scale(1.07 1)" font-size="16.8" text-anchor="end">150</text>
<text transform="translate(68.3 747.4) scale(1.07 1)" font-size="16.8" text-anchor="end">200</text>
<text transform="translate(151 609.8) scale(1.16 1)" font-size="19" text-anchor="start">A</text><text transform="translate(163.8 615.8) scale(0.96 1)" font-size="19" text-anchor="start">c</text>
<text transform="translate(234 608.6) scale(1.07 1)" font-size="16.6" text-anchor="middle">100</text>
<text transform="translate(389.4 608.6) scale(1.07 1)" font-size="16.6" text-anchor="middle">200</text>
<text transform="translate(140.8 1005.1) scale(1.16 1)" font-size="19" text-anchor="start">A</text><text transform="translate(153.6 1012.7) scale(0.96 1)" font-size="19" text-anchor="start">c</text>
<text transform="translate(226.9 1001.2) scale(1.07 1)" font-size="16.0" text-anchor="middle">20</text>
<text transform="translate(305.6 1001.2) scale(1.07 1)" font-size="16.0" text-anchor="middle">30</text>
<text transform="translate(384.3 1001.2) scale(1.07 1)" font-size="16.0" text-anchor="middle">40</text>
<text transform="translate(463 1001.2) scale(1.07 1)" font-size="16.0" text-anchor="middle">50</text>
<text transform="translate(208 642) scale(1.07 1)" font-size="19.5" text-anchor="start">A[<tspan font-size="12.6" dx="0.6">10</tspan><tspan font-size="14.8" dy="-7.2" dx="0.4">-9</tspan><tspan dy="7.2" dx="5.4">g</tspan><tspan dx="6.1">μ</tspan><tspan dx="0.9">m/s</tspan><tspan font-size="14.8" dy="-7.2" dx="0.8">2</tspan><tspan dy="7.2" dx="0.9">]</tspan></text>
<text transform="translate(208.8 1030.4) scale(1.07 1)" font-size="19.5" text-anchor="start">A[<tspan font-size="12.6" dx="0.6">10</tspan><tspan font-size="14.8" dy="-7.2" dx="0.4">-9</tspan><tspan dy="7.2" dx="5.4">g</tspan><tspan dx="6.1">μ</tspan><tspan dx="0.9">m/s</tspan><tspan font-size="14.8" dy="-7.2" dx="0.8">2</tspan><tspan dy="7.2" dx="0.9">]</tspan></text>
</svg>
</body></html>
